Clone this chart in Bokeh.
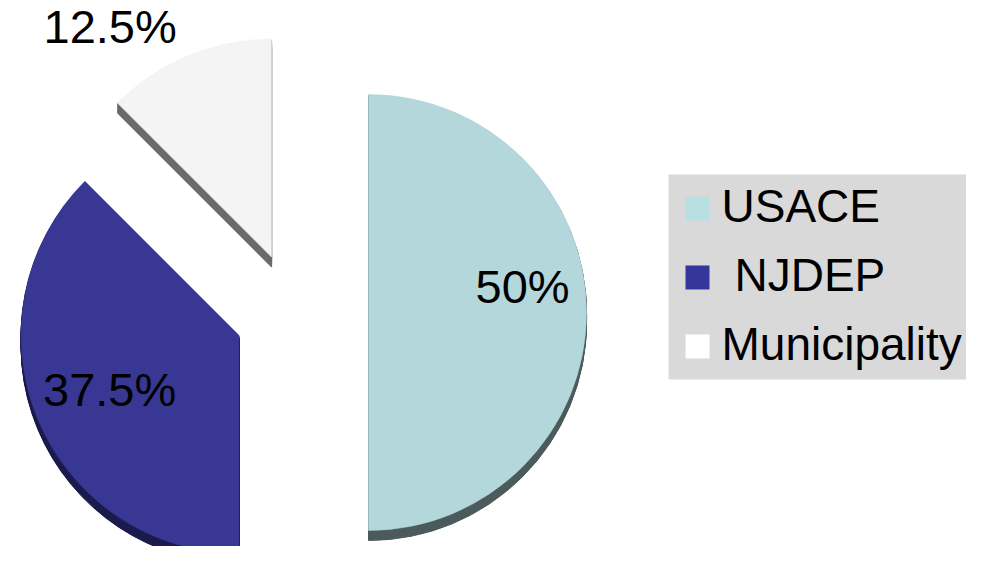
import numpy as np
from bokeh.plotting import figure
from bokeh.models import Range1d, ColumnDataSource
from bokeh.core.properties import value
from bokeh.embed import file_html
from bokeh.resources import INLINE

# ---- data ----
categories = ["USACE", "NJDEP", "Municipality"]
shares = [50.0, 37.5, 12.5]
pct_labels = ["50%", "37.5%", "12.5%"]
legend_labels = ["USACE", "NJDEP", "Municipality"]

# ---- style ----
face_colors = ["#b4d7db", "#383894", "#f4f4f4"]
side_colors = ["#4b5b5c", "#1b1a4d", "#6a6a6a"]
swatch_colors = ["#b8e0e3", "#35359a", "#ffffff"]
legend_indent = [0, 13, 0]
FONT = "Liberation Sans"
FSIZE = "47px"
LEG_FSIZE = "46px"

W, H = 966, 546
PAGE_H = 562


def py(y):
    # picture pixel row -> data y (upwards)
    return PAGE_H - y


CX, CY = 294.0, py(312)
R = 218
explode = np.array([74.0, 60.0, 60.0])
DEPTH = 10
label_r = np.array([156.0, 141.0, 280.0])
label_da = np.array([8.9, 0.9, 12.7])

# ---- geometry from values ----
vals = np.array(shares)
cum = np.concatenate([[0.0], np.cumsum(vals)]) / vals.sum()
start = 90.0 - 360.0 * cum[:-1]
end = 90.0 - 360.0 * cum[1:]
mid = (start + end) / 2.0
ax = CX + explode * np.cos(np.radians(mid))
ay = CY + explode * np.sin(np.radians(mid))

p = figure(width=W, height=H, output_backend="svg", toolbar_location=None,
           x_range=Range1d(0, W), y_range=Range1d(PAGE_H - H, PAGE_H),
           min_border=0)
p.axis.visible = False
p.grid.visible = False
p.outline_line_color = None
p.background_fill_color = "white"
p.border_fill_color = "white"

# side (depth) of each slice: stacked copies shifted downward
sx, sy, ss, se, sc = [], [], [], [], []
for i in range(len(vals)):
    for k in range(1, DEPTH + 1):
        sx.append(ax[i]); sy.append(ay[i] - k)
        ss.append(np.radians(start[i])); se.append(np.radians(end[i]))
        sc.append(side_colors[i])
side_src = ColumnDataSource(dict(x=sx, y=sy, s=ss, e=se, c=sc))
p.wedge(x="x", y="y", radius=R, start_angle="s", end_angle="e", direction="clock",
        fill_color="c", line_color="c", line_width=1, source=side_src)

face_src = ColumnDataSource(dict(x=ax, y=ay, s=np.radians(start), e=np.radians(end),
                                 c=face_colors))
p.wedge(x="x", y="y", radius=R, start_angle="s", end_angle="e", direction="clock",
        fill_color="c", line_color="c", line_width=0.5, source=face_src)

# percentage labels
lang = np.radians(mid + label_da)
lx = ax + label_r * np.cos(lang)
ly = ay + label_r * np.sin(lang)
lab_src = ColumnDataSource(dict(x=lx, y=ly, t=pct_labels))
p.text(x="x", y="y", text="t", source=lab_src, text_align="center",
       text_baseline="alphabetic", y_offset=-2, text_color="black",
       text_font=value(FONT), text_font_size=value(FSIZE))

# legend (drawn)
LEG_L, LEG_R, LEG_T, LEG_B = 668, 980, 174, 379
p.quad(left=LEG_L, right=LEG_R, top=py(LEG_T), bottom=py(LEG_B),
       fill_color="#d9d9d9", line_color=None)
n = len(categories)
row0, pitch = 208.0, 69.0
rows = row0 + pitch * np.arange(n)
p.rect(x=[697] * n, y=[py(r) for r in rows], width=24, height=24,
       fill_color=swatch_colors, line_color=None)
leg_src = ColumnDataSource(dict(x=[721 + d for d in legend_indent],
                                y=[py(r - 2.5) for r in rows], t=legend_labels))
p.text(x="x", y="y", text="t", source=leg_src, text_align="left",
       text_baseline="alphabetic", text_color="black",
       text_font=value(FONT), text_font_size=value(LEG_FSIZE))

open("out.html", "w").write(file_html(p, INLINE))
